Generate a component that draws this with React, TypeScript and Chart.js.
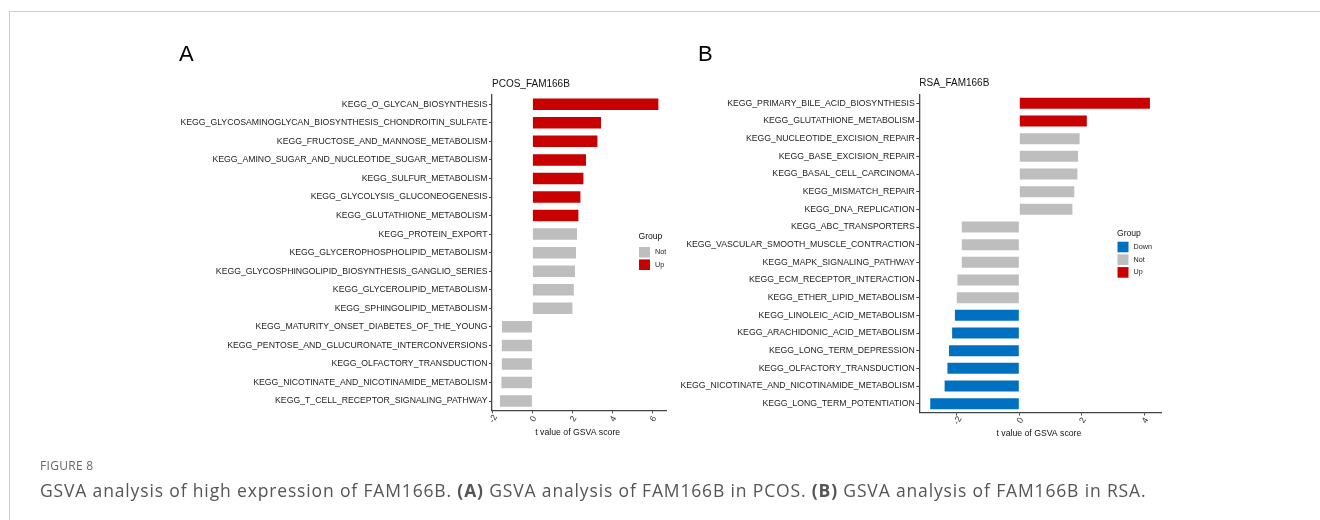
import React, { useEffect, useRef } from "react";
import { Chart, registerables } from "chart.js";
Chart.register(...registerables);

// ---------- Data ----------
const titleA = "PCOS_FAM166B";
const pathwaysA = [
  "KEGG_O_GLYCAN_BIOSYNTHESIS",
  "KEGG_GLYCOSAMINOGLYCAN_BIOSYNTHESIS_CHONDROITIN_SULFATE",
  "KEGG_FRUCTOSE_AND_MANNOSE_METABOLISM",
  "KEGG_AMINO_SUGAR_AND_NUCLEOTIDE_SUGAR_METABOLISM",
  "KEGG_SULFUR_METABOLISM",
  "KEGG_GLYCOLYSIS_GLUCONEOGENESIS",
  "KEGG_GLUTATHIONE_METABOLISM",
  "KEGG_PROTEIN_EXPORT",
  "KEGG_GLYCEROPHOSPHOLIPID_METABOLISM",
  "KEGG_GLYCOSPHINGOLIPID_BIOSYNTHESIS_GANGLIO_SERIES",
  "KEGG_GLYCEROLIPID_METABOLISM",
  "KEGG_SPHINGOLIPID_METABOLISM",
  "KEGG_MATURITY_ONSET_DIABETES_OF_THE_YOUNG",
  "KEGG_PENTOSE_AND_GLUCURONATE_INTERCONVERSIONS",
  "KEGG_OLFACTORY_TRANSDUCTION",
  "KEGG_NICOTINATE_AND_NICOTINAMIDE_METABOLISM",
  "KEGG_T_CELL_RECEPTOR_SIGNALING_PATHWAY",
];
const valuesA = [6.3, 3.43, 3.25, 2.68, 2.55, 2.4, 2.3, 2.23, 2.18, 2.13, 2.07, 2.0, -1.52, -1.53, -1.53, -1.55, -1.62];
const groupsA = ["Up", "Up", "Up", "Up", "Up", "Up", "Up", "Not", "Not", "Not", "Not", "Not", "Not", "Not", "Not", "Not", "Not"];
const ticksA = [-2, 0, 2, 4, 6];

const titleB = "RSA_FAM166B";
const pathwaysB = [
  "KEGG_PRIMARY_BILE_ACID_BIOSYNTHESIS",
  "KEGG_GLUTATHIONE_METABOLISM",
  "KEGG_NUCLEOTIDE_EXCISION_REPAIR",
  "KEGG_BASE_EXCISION_REPAIR",
  "KEGG_BASAL_CELL_CARCINOMA",
  "KEGG_MISMATCH_REPAIR",
  "KEGG_DNA_REPLICATION",
  "KEGG_ABC_TRANSPORTERS",
  "KEGG_VASCULAR_SMOOTH_MUSCLE_CONTRACTION",
  "KEGG_MAPK_SIGNALING_PATHWAY",
  "KEGG_ECM_RECEPTOR_INTERACTION",
  "KEGG_ETHER_LIPID_METABOLISM",
  "KEGG_LINOLEIC_ACID_METABOLISM",
  "KEGG_ARACHIDONIC_ACID_METABOLISM",
  "KEGG_LONG_TERM_DEPRESSION",
  "KEGG_OLFACTORY_TRANSDUCTION",
  "KEGG_NICOTINATE_AND_NICOTINAMIDE_METABOLISM",
  "KEGG_LONG_TERM_POTENTIATION",
];
const valuesB = [4.18, 2.16, 1.93, 1.88, 1.86, 1.76, 1.7, -1.84, -1.84, -1.84, -1.98, -2.0, -2.06, -2.15, -2.25, -2.3, -2.39, -2.85];
const groupsB = ["Up", "Up", "Not", "Not", "Not", "Not", "Not", "Not", "Not", "Not", "Not", "Not", "Down", "Down", "Down", "Down", "Down", "Down"];
const ticksB = [-2, 0, 2, 4];

const groupOrder = ["Down", "Not", "Up"];
const groupColors: Record<string, string> = { Down: "#0070C0", Not: "#BEBEBE", Up: "#C80000" };
const xAxisTitle = "t value of GSVA score";
const legendTitle = "Group";

// ---------- Layout (page coordinates) ----------
const FONT = "'Liberation Sans', Arial, Helvetica, sans-serif";
const panelA = {
  area: { left: 492, right: 666.4, top: 95.0, bottom: 410.3 },
  xMin: -2.02, xMax: 6.7,
  titleY: 84.3, tickLabelY: 419, xTitleY: 433,
  legend: { x: 638.5, titleY: 237, firstKeyY: 252.3, step: 12.4 },
};
const panelB = {
  area: { left: 919.3, right: 1161.5, top: 94.5, bottom: 412.5 },
  xMin: -3.2, xMax: 4.55,
  titleY: 83.3, tickLabelY: 420.5, xTitleY: 434,
  legend: { x: 1117, titleY: 233.3, firstKeyY: 247, step: 12.7 },
};

const W = 1320;
const H = 520;

function makeChart(
  canvas: HTMLCanvasElement,
  labels: string[],
  values: number[],
  groups: string[],
  tickValues: number[],
  title: string,
  p: typeof panelA
) {
  const present = groupOrder.filter((g) => groups.includes(g));
  const datasets = present.map((g) => ({
    label: g,
    data: values.map((v, i) => (groups[i] === g ? v : null)),
    backgroundColor: groupColors[g],
    borderWidth: 0,
    barPercentage: 0.62,
    categoryPercentage: 1.0,
  }));
  const xAxisH = 10;
  const padLeft = 10;

  const overlay = {
    id: "overlay",
    afterDraw(chart: any) {
      const ctx = chart.ctx as CanvasRenderingContext2D;
      const xs = chart.scales.x;
      const ca = chart.chartArea;
      ctx.save();
      // panel title
      ctx.fillStyle = "#111";
      ctx.font = `10px ${FONT}`;
      ctx.textAlign = "left";
      ctx.textBaseline = "middle";
      ctx.fillText(title, ca.left, p.titleY);
      // x tick labels (rotated)
      ctx.fillStyle = "#333";
      ctx.font = `8.7px ${FONT}`;
      for (const v of tickValues) {
        const x = xs.getPixelForValue(v);
        ctx.save();
        ctx.translate(x + 1, p.tickLabelY);
        ctx.rotate(-Math.PI / 3);
        ctx.textAlign = "center";
        ctx.textBaseline = "middle";
        ctx.fillText(String(v), 0, 0);
        ctx.restore();
      }
      // x axis title
      ctx.fillStyle = "#111";
      ctx.font = `8.7px ${FONT}`;
      ctx.textAlign = "center";
      ctx.textBaseline = "middle";
      ctx.fillText(xAxisTitle, (ca.left + ca.right) / 2 - 1.5, p.xTitleY);
      // legend
      const lg = p.legend;
      ctx.textAlign = "left";
      ctx.fillStyle = "#111";
      ctx.font = `8.6px ${FONT}`;
      ctx.fillText(legendTitle, lg.x, lg.titleY);
      chart.data.datasets.forEach((ds: any, i: number) => {
        const cy = lg.firstKeyY + i * lg.step;
        ctx.fillStyle = ds.backgroundColor;
        ctx.fillRect(lg.x + 0.5, cy - 5.3, 11, 10.6);
        ctx.fillStyle = "#222";
        ctx.font = `7.2px ${FONT}`;
        ctx.fillText(ds.label, lg.x + 16.5, cy);
      });
      ctx.restore();
    },
  };

  return new Chart(canvas, {
    type: "bar",
    data: { labels, datasets },
    plugins: [overlay],
    options: {
      indexAxis: "y",
      animation: false,
      responsive: false,
      devicePixelRatio: 1,
      layout: {
        padding: {
          left: padLeft,
          top: p.area.top,
          right: W - p.area.right,
          bottom: H - p.area.bottom - xAxisH,
        },
      },
      plugins: {
        legend: { display: false },
        title: { display: false },
        tooltip: { enabled: false },
      },
      scales: {
        x: {
          type: "linear",
          stacked: true,
          min: p.xMin,
          max: p.xMax,
          afterBuildTicks: (scale: any) => {
            scale.ticks = tickValues.map((v) => ({ value: v }));
          },
          afterFit: (scale: any) => {
            scale.height = xAxisH;
          },
          ticks: { display: false, includeBounds: false },
          grid: { drawOnChartArea: false, drawTicks: true, tickLength: 3, color: "#444", lineWidth: 1 },
          border: { display: true, color: "#444", width: 1.3 },
        },
        y: {
          type: "category",
          stacked: true,
          offset: true,
          afterFit: (scale: any) => {
            scale.width = p.area.left - padLeft;
          },
          ticks: {
            autoSkip: false,
            padding: 1.5,
            color: "#222",
            font: { family: FONT, size: 8.7 },
          },
          grid: { drawOnChartArea: false, drawTicks: true, tickLength: 3, color: "#444", lineWidth: 1, offset: false },
          border: { display: true, color: "#444", width: 1.3 },
        },
      },
    },
  });
}

export default function App() {
  const refA = useRef<HTMLCanvasElement>(null);
  const refB = useRef<HTMLCanvasElement>(null);

  useEffect(() => {
    const cA = makeChart(refA.current!, pathwaysA, valuesA, groupsA, ticksA, titleA, panelA);
    const cB = makeChart(refB.current!, pathwaysB, valuesB, groupsB, ticksB, titleB, panelB);
    return () => {
      cA.destroy();
      cB.destroy();
    };
  }, []);

  const canvasStyle: React.CSSProperties = { position: "absolute", left: 0, top: 0, width: W, height: H };
  return (
    <div style={{ position: "fixed", left: 0, top: 0, width: W, height: H, background: "#fff", overflow: "hidden" }}>
      <div style={{ position: "absolute", left: 9, top: 11, right: 0, bottom: 0, borderTop: "1px solid #cfcfcf", borderLeft: "1px solid #cfcfcf" }} />
      <canvas ref={refA} width={W} height={H} style={canvasStyle} />
      <canvas ref={refB} width={W} height={H} style={canvasStyle} />
      <div style={{ position: "absolute", left: 179, top: 41, font: `22px ${FONT}`, color: "#000", lineHeight: "26px" }}>A</div>
      <div style={{ position: "absolute", left: 698, top: 41, font: `22px ${FONT}`, color: "#000", lineHeight: "26px" }}>B</div>
      <div style={{ position: "absolute", left: 40, top: 458, font: `12px 'Open Sans', 'Noto Sans', sans-serif`, color: "#666", lineHeight: "16px", letterSpacing: "0.3px" }}>FIGURE 8</div>
      <div style={{ position: "absolute", left: 40, top: 478, font: `17.5px 'Open Sans', 'Noto Sans', sans-serif`, color: "#555", lineHeight: "24px", whiteSpace: "nowrap", letterSpacing: "0.85px" }}>
        GSVA analysis of high expression of FAM166B. <b>(A)</b> GSVA analysis of FAM166B in PCOS. <b>(B)</b> GSVA analysis of FAM166B in RSA.
      </div>
    </div>
  );
}
